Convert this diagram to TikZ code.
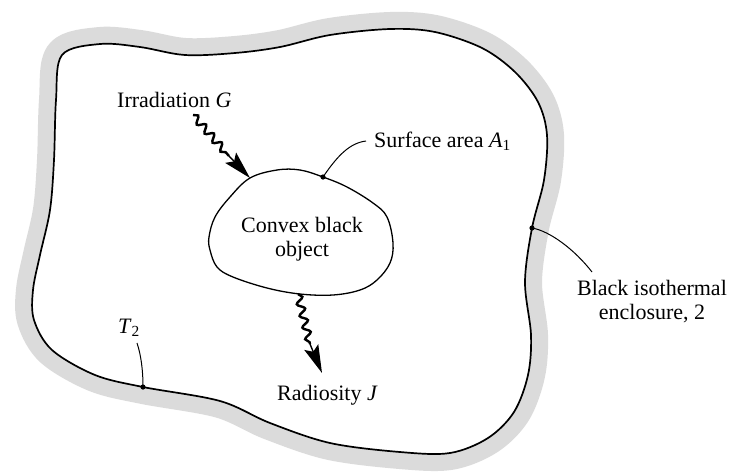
\documentclass[tikz,border=0pt]{standalone}
\usepackage{fontspec}
\setmainfont{Liberation Serif}
\usetikzlibrary{decorations.pathmorphing,arrows.meta}
\tikzset{
  lbl/.style={inner sep=0pt, font=\fontsize{22}{24}\selectfont},
  wave/.style={line width=2.4pt, decorate, decoration={snake, segment length=12pt, amplitude=3.6pt, post length=1pt}},
  head/.style={line width=1.4pt, -{Stealth[length=28pt,width=15pt,inset=5pt]}},
  leader/.style={line width=1pt},
  dotmark/.style={fill=black},
}
\begin{document}
\begin{tikzpicture}[x=1pt,y=-1pt]
\useasboundingbox (0,0) rectangle (731,475);
\def\encl{(62,55) (100,44) (140,47) (185,55) (235,53) (280,47) (330,35) (390,29) (435,32) (482,48) (515,72) (538,102) (547,135) (544,180) (532,228) (525,282) (531,335) (528,375) (514,412) (488,438) (450,453) (400,452) (330,443) (270,423) (220,401) (143,387) (95,375) (52,350) (34,320) (33,290) (40,255) (50,210) (54,160) (56,100)}
% shaded band
\draw[gray!28, line width=34pt, line join=round] plot[smooth cycle, tension=0.55] coordinates {\encl};
\filldraw[fill=white, draw=black, line width=1.7pt] plot[smooth cycle, tension=0.55] coordinates {\encl};
% convex object
\draw[line width=1.3pt] plot[smooth cycle, tension=0.6] coordinates {(250,178) (277,170) (300,170) (323,177) (347,187) (373,203) (387,217) (393,243) (390,263) (377,280) (360,290) (333,295) (300,294) (267,288) (233,277) (217,267) (210,250) (209,237) (215,217) (230,197)};
\coordinate (objdot) at (323,177);
\coordinate (encdot) at (532,228);
\coordinate (tdot) at (143,387);
\fill[dotmark] (objdot) circle (2.6pt);
\fill[dotmark] (encdot) circle (2.6pt);
\fill[dotmark] (tdot) circle (2.6pt);
% labels
\node[lbl, align=center] (obj) at (302,239) {Convex black\\object};
\node[lbl, anchor=base west] (irr) at (117,107) {Irradiation \textit{G}};
\node[lbl, anchor=base west] (surf) at (374,147) {Surface area \textit{A}\textsubscript{1}};
\node[lbl, align=center] (enc) at (652,302) {Black isothermal\\enclosure, 2};
\node[lbl, anchor=base west] (t2) at (118,333) {\textit{T}\textsubscript{2}};
\node[lbl, anchor=base west] (rad) at (277,400) {Radiosity \textit{J}};
% leaders
\coordinate (surfend) at (366,141);
\coordinate (encend) at (592,272);
\coordinate (t2end) at (137,343);
\draw[leader] (objdot) .. controls (338,155) and (350,143) .. (surfend);
\draw[leader] (encdot) .. controls (550,231) and (575,250) .. (encend);
\draw[leader] (t2end) .. controls (141,355) and (143,370) .. (tdot);
% irradiation arrow
\coordinate (irrstart) at (193,115);
\coordinate (irrbase) at (229,156);
\coordinate (irrtip) at (250,178);
\draw[wave] (irrstart) -- (irrbase);
\draw[head] (irrbase) -- (irrtip);
% radiosity arrow
\coordinate (radstart) at (298,294);
\coordinate (radbase) at (310,344);
\coordinate (radtip) at (322,373);
\draw[wave] (radstart) -- (radbase);
\draw[head] (radbase) -- (radtip);
\end{tikzpicture}
\end{document}
